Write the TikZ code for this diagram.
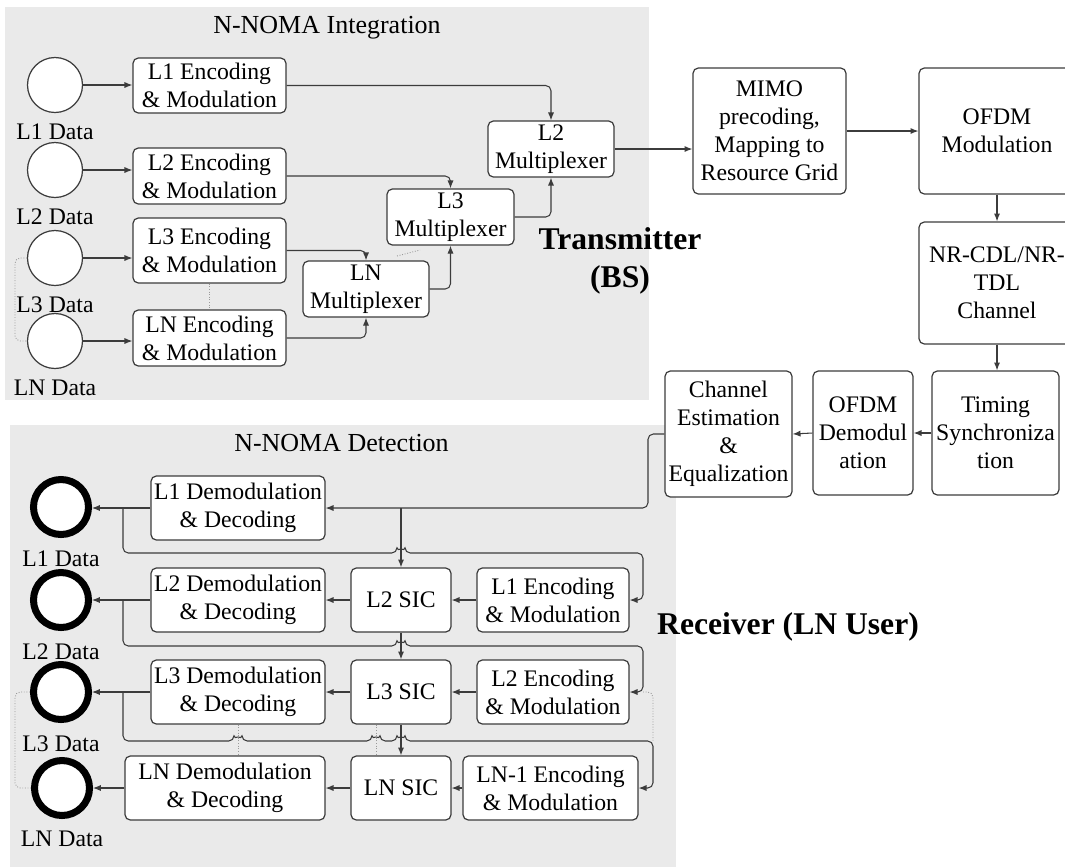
\documentclass[tikz,border=0pt]{standalone}
\usepackage{fontspec}
\setmainfont{Liberation Serif}
\usetikzlibrary{positioning,calc,arrows.meta}
\definecolor{panelgrey}{RGB}{234,234,234}
\definecolor{linegrey}{RGB}{60,60,60}

\begin{document}
\begin{tikzpicture}
		[x=0.02cm, y=-0.02cm,
		font=\fontsize{13.5}{15.9}\selectfont,
		blk/.style={draw=linegrey, line width=0.7pt, fill=white, rounded corners=3pt, align=center, inner sep=0pt},
		src/.style={circle, draw=linegrey, line width=0.7pt, fill=white, minimum size=1.1cm, inner sep=0pt},
		snk/.style={circle, draw=black, line width=4pt, fill=white, minimum size=1.1cm, inner sep=0pt},
		link/.style={draw=linegrey, line width=0.6pt, rounded corners=3pt, -{Latex[length=4.5pt,width=3.5pt]}},
		hint/.style={draw=gray!80, densely dotted, line width=0.5pt, rounded corners=3pt},
		ttl/.style={font=\fontsize{14.8}{17}\selectfont, anchor=base},
		side/.style={font=\fontsize{18}{21.5}\selectfont\bfseries, align=center}]
		\clip (0,0) rectangle (1065,867);
		\fill[panelgrey] (5,7) rectangle (649,400);
		\fill[panelgrey] (10,425) rectangle (676,867);
		\node[ttl] (ttlT) at (327,33) {N-NOMA Integration};
		\node[ttl] (ttlR) at (341.5,451) {N-NOMA Detection};

		% transmitter
		\node[src] (datA) at (55,85) {};
		\node[src] (datB) at (55,170) {};
		\node[src] (datC) at (55,258) {};
		\node[src] (datN) at (55,341) {};
		\node[below=2.5pt] (labA) at (datA.south) {L1 Data};
		\node[below=2.5pt] (labB) at (datB.south) {L2 Data};
		\node[below=2.5pt] (labC) at (datC.south) {L3 Data};
		\node[below=2.5pt] (labN) at (datN.south) {LN Data};

		\node[blk, minimum width=3.06cm, minimum height=1.1cm] (encA) at (209.5,85.5) {L1 Encoding\\\& Modulation};
		\node[blk, minimum width=3.06cm, minimum height=1.12cm] (encB) at (209.5,176) {L2 Encoding\\\& Modulation};
		\node[blk, minimum width=3.06cm, minimum height=1.3cm] (encC) at (209.5,250.5) {L3 Encoding\\\& Modulation};
		\node[blk, minimum width=3.06cm, minimum height=1.12cm] (encN) at (209.5,338) {LN Encoding\\\& Modulation};

		\node[blk, minimum width=2.52cm, minimum height=1.12cm] (muxB) at (551,149) {L2\\Multiplexer};
		\node[blk, minimum width=2.54cm, minimum height=1.12cm] (muxC) at (450.5,217) {L3\\Multiplexer};
		\node[blk, minimum width=2.52cm, minimum height=1.12cm] (muxN) at (366,289) {LN\\Multiplexer};

		\node[blk, minimum width=3.06cm, minimum height=2.52cm] (mimo) at (769.5,131) {MIMO\\precoding,\\Mapping to\\Resource Grid};
		\node[blk, minimum width=3.12cm, minimum height=2.52cm] (ofdm) at (997,131) {OFDM\\Modulation};
		\node[blk, minimum width=3.12cm, minimum height=2.44cm] (chan) at (997,283) {NR-CDL/NR-\\TDL\\Channel};
		\node[blk, minimum width=2.54cm, minimum height=2.48cm] (sync) at (995.5,433) {Timing\\Synchroniza\\tion};
		\node[blk, minimum width=2cm, minimum height=2.48cm] (demod) at (863,433) {OFDM\\Demodul\\ation};
		\node[blk, minimum width=2.54cm, minimum height=2.52cm] (chest) at (728.5,434) {Channel\\Estimation\\\&\\Equalization};

		\node[side] (tx) at (620,261) {Transmitter\\(BS)};
		\node[side] (rx) at (788,627) {Receiver (LN User)};

		\draw[link] (datA) -- (datA -| encA.west);
		\draw[link] (datB) -- (datB -| encB.west);
		\draw[link] (datC) -- (datC -| encC.west);
		\draw[link] (datN) -- (datN -| encN.west);
		\draw[link] (encA.east) -| (muxB.north);
		\draw[link] (encB.east) -| (muxC.north);
		\draw[link] (encC.east) -| (muxN.north);
		\draw[link] (encN.east) -| (muxN.south);
		\draw[link] (muxN.east) -| (muxC.south);
		\draw[link] (muxC.east) -| (muxB.south);
		\draw[link] (muxB.east) -- (muxB.east -| mimo.west);
		\draw[link] (mimo.east) -- (ofdm.west);
		\draw[link] (ofdm.south) -- (ofdm.south |- chan.north);
		\draw[link] (chan.south) -- (chan.south |- sync.north);
		\draw[link] (sync.west) -- (demod.east);
		\draw[link] (demod.west) -- (chest.east);

		\draw[hint] (datC.west) -- (15,258) -- (15,341) -- (datN.west);
		\draw[hint] (encC.south) -- (encN.north);
		\draw[hint] (397,256) -- (420,250);

		% receiver
		\node[snk] (snkA) at (61,507) {};
		\node[snk] (snkB) at (61,600) {};
		\node[snk] (snkC) at (61,692) {};
		\node[snk] (snkN) at (62,788) {};
		\node[below=3.5pt] (outA) at (snkA.south) {L1 Data};
		\node[below=3.5pt] (outB) at (snkB.south) {L2 Data};
		\node[below=3.5pt] (outC) at (snkC.south) {L3 Data};
		\node[below=3.5pt] (outN) at (snkN.south) {LN Data};

		\node[blk, minimum width=3.48cm, minimum height=1.28cm] (decA) at (238,508) {L1 Demodulation\\\& Decoding};
		\node[blk, minimum width=3.48cm, minimum height=1.28cm] (decB) at (238,600) {L2 Demodulation\\\& Decoding};
		\node[blk, minimum width=3.48cm, minimum height=1.28cm] (decC) at (238,692) {L3 Demodulation\\\& Decoding};
		\node[blk, minimum width=4cm, minimum height=1.28cm] (decN) at (225,788) {LN Demodulation\\\& Decoding};

		\node[blk, minimum width=2cm, minimum height=1.28cm] (sicB) at (401,600) {L2 SIC};
		\node[blk, minimum width=2cm, minimum height=1.28cm] (sicC) at (401,692) {L3 SIC};
		\node[blk, minimum width=2cm, minimum height=1.28cm] (sicN) at (401,788) {LN SIC};

		\node[blk, minimum width=3.04cm, minimum height=1.28cm] (reA) at (553,600) {L1 Encoding\\\& Modulation};
		\node[blk, minimum width=3.04cm, minimum height=1.28cm] (reB) at (553,692) {L2 Encoding\\\& Modulation};
		\node[blk, minimum width=3.5cm, minimum height=1.28cm] (reN) at (550.5,788) {LN-1 Encoding\\\& Modulation};

		\draw[link] (chest.west) -- (648,434) |- (decA.east);
		\draw[link] (sicB.north |- decA.east) -- (sicB.north);
		\draw[link] (sicB.south) -- (sicC.north);
		\draw[link] (sicC.south) -- (sicN.north);
		\foreach \n in {A,B,C,N} {
			\draw[link] (dec\n.west) -- (dec\n.west -| snk\n.east);
		}
		\draw[link] (reA.west) -- (sicB.east);
		\draw[link] (reB.west) -- (sicC.east);
		\draw[link] (reN.west) -- (sicN.east);
		\draw[link] (sicB.west) -- (decB.east);
		\draw[link] (sicC.west) -- (decC.east);
		\draw[link] (sicN.west) -- (decN.east);

		% decoded layers fed back for cancellation
		\coordinate (tapA) at (123,507);
		\coordinate (tapB) at (123,600);
		\coordinate (tapC) at (123,692);
		\draw[link] (tapA) -- (123,553) -- (397,553) arc[start angle=180, end angle=0, radius=0.08cm]
			-- (643,553) -- (643,600) -- (reA.east);
		\draw[link] (tapB) -- (123,646) -- (397,646) arc[start angle=180, end angle=0, radius=0.08cm]
			-- (643,646) -- (643,692) -- (reB.east);
		\draw[link] (tapC) -- (123,741) -- (234,741) arc[start angle=180, end angle=0, radius=0.08cm]
			-- (372,741) arc[start angle=180, end angle=0, radius=0.08cm]
			-- (397,741) arc[start angle=180, end angle=0, radius=0.08cm]
			-- (653,741) -- (653,788) -- (reN.east);

		\draw[hint] (snkC.west) -- (15,692) -- (15,788) -- (snkN.west);
		\draw[hint] (decC.south) -- (decC.south |- decN.north);
		\draw[hint] ($(sicC.south)+(-25,0)$) -- ($(sicN.north)+(-25,0)$);
		\draw[hint] (643,692) -- (653,692) -- (653,741);
	\end{tikzpicture}
\end{document}
